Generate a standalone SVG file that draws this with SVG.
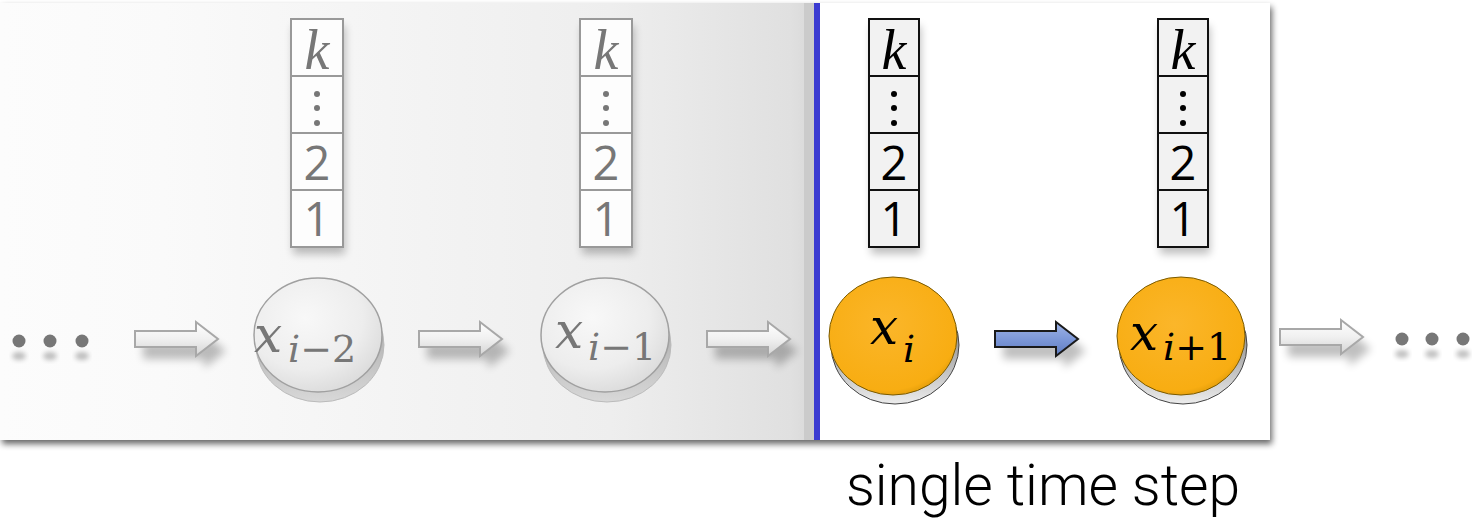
<svg xmlns="http://www.w3.org/2000/svg" width="1472" height="520" viewBox="0 0 1472 520">
<defs>
<linearGradient id="panelG" x1="0" y1="0" x2="1" y2="0">
<stop offset="0" stop-color="#fcfcfc"/><stop offset="0.2" stop-color="#fafafa"/><stop offset="0.75" stop-color="#eeeeee"/><stop offset="0.97" stop-color="#e0e0e0"/><stop offset="1" stop-color="#d8d8d8"/>
</linearGradient>
<radialGradient id="grayFace" cx="0.4" cy="0.35" r="0.75">
<stop offset="0" stop-color="#f8f8f8"/><stop offset="0.6" stop-color="#ededed"/><stop offset="0.9" stop-color="#dcdcdc"/><stop offset="1" stop-color="#bcbcbc"/>
</radialGradient>
<linearGradient id="graySide" x1="0" y1="0" x2="0" y2="1">
<stop offset="0" stop-color="#9a9a9a"/><stop offset="1" stop-color="#d8d8d8"/>
</linearGradient>
<radialGradient id="orangeFace" cx="0.45" cy="0.4" r="0.7">
<stop offset="0" stop-color="#fbb62a"/><stop offset="0.8" stop-color="#f8ad12"/><stop offset="1" stop-color="#c98a00"/>
</radialGradient>
<linearGradient id="orangeSide" x1="0" y1="0" x2="0" y2="1">
<stop offset="0" stop-color="#555"/><stop offset="1" stop-color="#ececec"/>
</linearGradient>
<linearGradient id="arrowG" x1="0" y1="0" x2="0" y2="1">
<stop offset="0" stop-color="#ffffff"/><stop offset="0.5" stop-color="#f0f0f0"/><stop offset="1" stop-color="#d4d4d4"/>
</linearGradient>
<linearGradient id="blueG" x1="0" y1="0" x2="0" y2="1">
<stop offset="0" stop-color="#9fb4e6"/><stop offset="0.5" stop-color="#7d98d8"/><stop offset="1" stop-color="#5f7cc0"/>
</linearGradient>
<filter id="blur4" x="-20%" y="-50%" width="140%" height="200%"><feGaussianBlur stdDeviation="4"/></filter>
<filter id="blur2" x="-20%" y="-50%" width="140%" height="200%"><feGaussianBlur stdDeviation="2.5"/></filter>
<filter id="panelShadow" x="-2%" y="-5%" width="104%" height="110%"><feGaussianBlur in="SourceAlpha" stdDeviation="3"/><feOffset dx="2" dy="4"/><feComponentTransfer><feFuncA type="linear" slope="0.6"/></feComponentTransfer><feMerge><feMergeNode/><feMergeNode in="SourceGraphic"/></feMerge></filter>
<path id="arrowShape" d="M0,9 H61 V0 L83,17 L61,34 V25 H0 Z"/>
</defs>
<style>
.gcell{fill:#fdfdfd;stroke:#999;stroke-width:2}
.bcell{fill:#f2f2f2;stroke:#111;stroke-width:2}
.mathG{font-family:"DejaVu Serif","Liberation Serif",serif;font-style:italic;fill:#777}
.mathB{font-family:"DejaVu Serif","Liberation Serif",serif;font-style:italic;fill:#000}
.kG{font-family:"Liberation Serif","DejaVu Serif",serif;font-style:italic;fill:#777;font-size:56px}
.kB{font-family:"Liberation Serif","DejaVu Serif",serif;font-style:italic;fill:#000;font-size:56px}
.digG{font-family:"Open Sans","Noto Sans",sans-serif;fill:#777;font-size:47px}
.digB{font-family:"Open Sans","Noto Sans",sans-serif;fill:#000;font-size:47px}
.up{font-style:normal}
.garrow{fill:url(#arrowG);stroke:#a8a8a8;stroke-width:2}
.shadow{fill:#000;opacity:0.25}
</style>

<g id="panel">
<rect x="0" y="3" width="1270" height="437" fill="#ffffff" filter="url(#panelShadow)"/>
<rect x="0" y="3" width="815" height="437" fill="url(#panelG)"/>
<rect x="804" y="3" width="11" height="437" fill="#cbcbcb"/>
<rect x="814" y="3" width="6" height="437" fill="#3b3bd1"/>
</g>

<g id="dots-left" fill="#777">
<ellipse cx="19" cy="356" rx="7" ry="4" class="shadow" filter="url(#blur2)"/>
<ellipse cx="50" cy="356" rx="7" ry="4" class="shadow" filter="url(#blur2)"/>
<ellipse cx="82" cy="356" rx="7" ry="4" class="shadow" filter="url(#blur2)"/>
<circle cx="19" cy="341" r="6.5"/><circle cx="50" cy="341" r="6.5"/><circle cx="82" cy="341" r="6.5"/>
</g>

<g id="dots-right" fill="#777">
<ellipse cx="1402" cy="354" rx="7" ry="4" class="shadow" filter="url(#blur2)"/>
<ellipse cx="1432" cy="354" rx="7" ry="4" class="shadow" filter="url(#blur2)"/>
<ellipse cx="1463" cy="354" rx="7" ry="4" class="shadow" filter="url(#blur2)"/>
<circle cx="1402" cy="339" r="6.5"/><circle cx="1432" cy="339" r="6.5"/><circle cx="1463" cy="339" r="6.5"/>
</g>

<g id="connectors">
<g transform="translate(135,322)"><use href="#arrowShape" class="shadow" transform="translate(8,12)" filter="url(#blur4)"/><use href="#arrowShape" class="garrow"/></g>
<g transform="translate(419,322)"><use href="#arrowShape" class="shadow" transform="translate(8,12)" filter="url(#blur4)"/><use href="#arrowShape" class="garrow"/></g>
<g transform="translate(707,322)"><use href="#arrowShape" class="shadow" transform="translate(8,12)" filter="url(#blur4)"/><use href="#arrowShape" class="garrow"/></g>
<g transform="translate(995,322)"><use href="#arrowShape" class="shadow" transform="translate(8,12)" filter="url(#blur4)"/><use href="#arrowShape" fill="url(#blueG)" stroke="#1a1a1a" stroke-width="2"/></g>
<g transform="translate(1280,320)"><use href="#arrowShape" class="shadow" transform="translate(8,12)" filter="url(#blur4)"/><use href="#arrowShape" class="garrow"/></g>
</g>

<g id="stack1">
<rect x="293" y="26" width="52" height="228" class="shadow" filter="url(#blur4)"/>
<rect x="291" y="19" width="52" height="57" class="gcell"/><rect x="291" y="76" width="52" height="57" class="gcell"/>
<rect x="291" y="133" width="52" height="57" class="gcell"/><rect x="291" y="190" width="52" height="57" class="gcell"/>
<text x="317" y="69" text-anchor="middle" class="kG">k</text>
<g fill="#777"><circle cx="317" cy="94" r="3"/><circle cx="317" cy="108" r="3"/><circle cx="317" cy="123" r="3"/></g>
<text x="317" y="180" text-anchor="middle" class="digG">2</text>
<text x="317" y="236" text-anchor="middle" class="digG">1</text>
</g>

<g id="stack2">
<rect x="582" y="26" width="52" height="228" class="shadow" filter="url(#blur4)"/>
<rect x="580" y="19" width="52" height="57" class="gcell"/><rect x="580" y="76" width="52" height="57" class="gcell"/>
<rect x="580" y="133" width="52" height="57" class="gcell"/><rect x="580" y="190" width="52" height="57" class="gcell"/>
<text x="606" y="69" text-anchor="middle" class="kG">k</text>
<g fill="#777"><circle cx="606" cy="94" r="3"/><circle cx="606" cy="108" r="3"/><circle cx="606" cy="123" r="3"/></g>
<text x="606" y="180" text-anchor="middle" class="digG">2</text>
<text x="606" y="236" text-anchor="middle" class="digG">1</text>
</g>

<g id="stack3">
<rect x="871" y="26" width="50" height="228" class="shadow" filter="url(#blur4)"/>
<rect x="869" y="19" width="50" height="57" class="bcell"/><rect x="869" y="76" width="50" height="57" class="bcell"/>
<rect x="869" y="133" width="50" height="57" class="bcell"/><rect x="869" y="190" width="50" height="57" class="bcell"/>
<text x="894" y="69" text-anchor="middle" class="kB">k</text>
<g fill="#000"><circle cx="894" cy="94" r="3"/><circle cx="894" cy="108" r="3"/><circle cx="894" cy="123" r="3"/></g>
<text x="894" y="180" text-anchor="middle" class="digB">2</text>
<text x="894" y="236" text-anchor="middle" class="digB">1</text>
</g>

<g id="stack4">
<rect x="1160" y="26" width="50" height="228" class="shadow" filter="url(#blur4)"/>
<rect x="1158" y="19" width="50" height="57" class="bcell"/><rect x="1158" y="76" width="50" height="57" class="bcell"/>
<rect x="1158" y="133" width="50" height="57" class="bcell"/><rect x="1158" y="190" width="50" height="57" class="bcell"/>
<text x="1183" y="69" text-anchor="middle" class="kB">k</text>
<g fill="#000"><circle cx="1183" cy="94" r="3"/><circle cx="1183" cy="108" r="3"/><circle cx="1183" cy="123" r="3"/></g>
<text x="1183" y="180" text-anchor="middle" class="digB">2</text>
<text x="1183" y="236" text-anchor="middle" class="digB">1</text>
</g>

<g id="coin-xi-2">
<ellipse cx="320" cy="345" rx="64" ry="57" fill="url(#graySide)" stroke="#bbb" stroke-width="1"/>
<ellipse cx="318" cy="335" rx="64" ry="57" fill="url(#grayFace)" stroke="#a0a0a0" stroke-width="1.5"/>
<text x="254" y="352" class="mathG" font-size="50">x</text>
<text x="288" y="362" class="mathG" font-size="38">i<tspan class="up">−2</tspan></text>
</g>

<g id="coin-xi-1">
<ellipse cx="607" cy="345" rx="64" ry="57" fill="url(#graySide)" stroke="#bbb" stroke-width="1"/>
<ellipse cx="605" cy="335" rx="64" ry="57" fill="url(#grayFace)" stroke="#a0a0a0" stroke-width="1.5"/>
<text x="555" y="348" class="mathG" font-size="50">x</text>
<text x="588" y="360" class="mathG" font-size="38">i<tspan class="up">−1</tspan></text>
</g>

<g id="coin-xi">
<ellipse cx="895" cy="345" rx="64" ry="59" fill="url(#orangeSide)" stroke="#444" stroke-width="1"/>
<ellipse cx="893" cy="336" rx="64" ry="59" fill="url(#orangeFace)" stroke="#7a5a00" stroke-width="1"/>
<text x="870" y="344" class="mathB" font-size="50">x</text>
<text x="903" y="362" class="mathB" font-size="38">i</text>
</g>

<g id="coin-xi+1">
<ellipse cx="1183" cy="345" rx="64" ry="59" fill="url(#orangeSide)" stroke="#444" stroke-width="1"/>
<ellipse cx="1181" cy="336" rx="64" ry="59" fill="url(#orangeFace)" stroke="#7a5a00" stroke-width="1"/>
<text x="1130" y="350" class="mathB" font-size="50">x</text>
<text x="1163" y="360" class="mathB" font-size="38">i<tspan class="up">+1</tspan></text>
</g>

<text id="caption" x="1043" y="505" text-anchor="middle" font-family="Roboto, sans-serif" font-weight="300" font-size="57" fill="#000">single time step</text>
</svg>
